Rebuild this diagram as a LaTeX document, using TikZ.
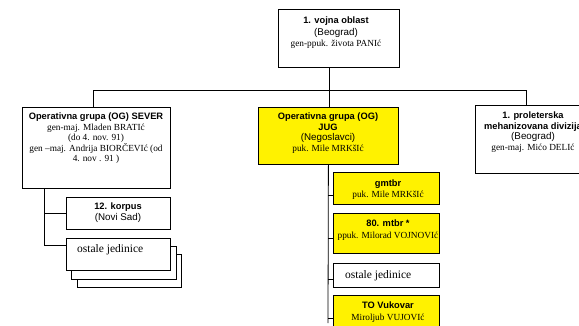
\documentclass[tikz,border=0pt]{standalone}
\usepackage{fontspec}
\setmainfont{Liberation Serif}
\setsansfont{Liberation Sans}
\newcommand{\tB}{\fontsize{9.3}{10.6}\selectfont\sffamily\bfseries}
\newcommand{\tS}{\fontsize{9.8}{10.6}\selectfont\sffamily}
\newcommand{\tR}{\fontsize{9.3}{10.6}\selectfont\rmfamily}
\newcommand{\tL}{\fontsize{11.5}{13}\selectfont\rmfamily}
\begin{document}
\begin{tikzpicture}[x=1pt,y=-1pt,
  box/.style={draw, line width=0.8pt, fill=white, anchor=north west, inner sep=0pt},
  ybox/.style={box, fill=yellow},
  txt/.style={anchor=base, align=center, inner sep=0pt, font=\fontsize{9}{10.6}\selectfont},
  ltxt/.style={anchor=base west, inner sep=0pt, font=\tL},
  conn/.style={draw, line width=0.8pt}]
\useasboundingbox (0,0) rectangle (579,325);
\clip (0,0) rectangle (579,325);

% top box
\node[box, minimum width=121pt, minimum height=58pt] (top) at (278,9) {};
\node[txt] (topT) at (336,46.2) {{\tB 1. vojna oblast}\\[1.5pt]{\tS (Beograd)}\\{\tR gen-ppuk. života PANIć}};

% second level
\node[box, minimum width=148pt, minimum height=81pt] (sever) at (22,107) {};
\node[txt] (severT) at (96,161.9) {{\tB Operativna grupa (OG) SEVER}\\{\tR gen-maj. Mladen BRATIć}\\{\tR (do 4. nov. 91)}\\{\tR gen –maj. Andrija BIORČEVIć (od}\\{\tR 4. nov . 91 )}};

\node[ybox, minimum width=140pt, minimum height=57pt] (jug) at (258,107) {};
\node[txt] (jugT) at (328,151.3) {{\tB Operativna grupa (OG)}\\{\tB JUG}\\{\tS (Negoslavci)}\\{\tR puk. Mile MRKšIć}};

\node[box, minimum width=115pt, minimum height=68pt] (prol) at (475,105) {};
\node[txt] (prolT) at (533,150.3) {{\tB 1. proleterska}\\{\tB mehanizovana divizija}\\{\tS (Beograd)}\\{\tR gen-maj. Mićo DELIć}};

% bus
\coordinate (busL) at (93,90);
\coordinate (busC) at (329,90);
\coordinate (busR) at (526,90);
\draw[conn] (top.south -| busC) -- (busC);
\draw[conn] (busL) -- (busR);
\draw[conn] (busL) -- (sever.north -| busL);
\draw[conn] (busC) -- (jug.north -| busC);
\draw[conn] (busR) -- (prol.north -| busR);

% left column
\node[box, minimum width=104pt, minimum height=32pt] (korpus) at (66,197) {};
\node[txt] (korpusT) at (118,220.1) {{\tB 12. korpus}\\{\tS (Novi Sad)}};
\node[box, minimum width=104pt, minimum height=33pt] (ostC) at (77,254) {};
\node[box, minimum width=105pt, minimum height=33pt] (ostB) at (71,246) {};
\node[box, minimum width=104pt, minimum height=32pt] (ostA) at (66,238) {};
\node[ltxt] (ostAT) at (77,252.5) {ostale jedinice};

\coordinate (lc) at (44,0);
\coordinate (ly1) at (0,213);
\coordinate (ly2) at (0,245);
\draw[conn] (sever.south -| lc) |- (ostA.west |- ly2);
\draw[conn] (lc |- ly1) -- (korpus.west |- ly1);

% middle column
\node[ybox, minimum width=106pt, minimum height=32pt] (gm) at (333,172) {};
\node[txt] (gmT) at (388,197.1) {{\tB gmtbr}\\{\tR puk. Mile MRKšIć}};
\node[ybox, minimum width=106pt, minimum height=40pt] (mtbr) at (333,213) {};
\node[txt] (mtbrT) at (388,238.6) {{\tB 80. mtbr *}\\[1.5pt]{\tR ppuk. Milorad VOJNOVIć}};
\node[box, minimum width=106pt, minimum height=24pt] (ostM) at (333,263) {};
\node[ltxt] (ostMT) at (345,278.5) {ostale jedinice};
\node[ybox, minimum width=106pt, minimum height=40pt] (tov) at (333,295) {};
\node[txt] (tovT) at (388,320.6) {{\tB TO Vukovar}\\[1.5pt]{\tR Miroljub VUJOVIć}};

\coordinate (mend) at (328,323);
\draw[conn] (jug.south) -- (mend);
\draw[conn] (jug.south |- 0,195) -- (gm.west |- 0,195);
\draw[conn] (jug.south |- 0,238) -- (mtbr.west |- 0,238);
\draw[conn] (jug.south |- 0,279) -- (ostM.west |- 0,279);
\draw[conn] (jug.south |- 0,318) -- (tov.west |- 0,318);
\end{tikzpicture}
\end{document}
